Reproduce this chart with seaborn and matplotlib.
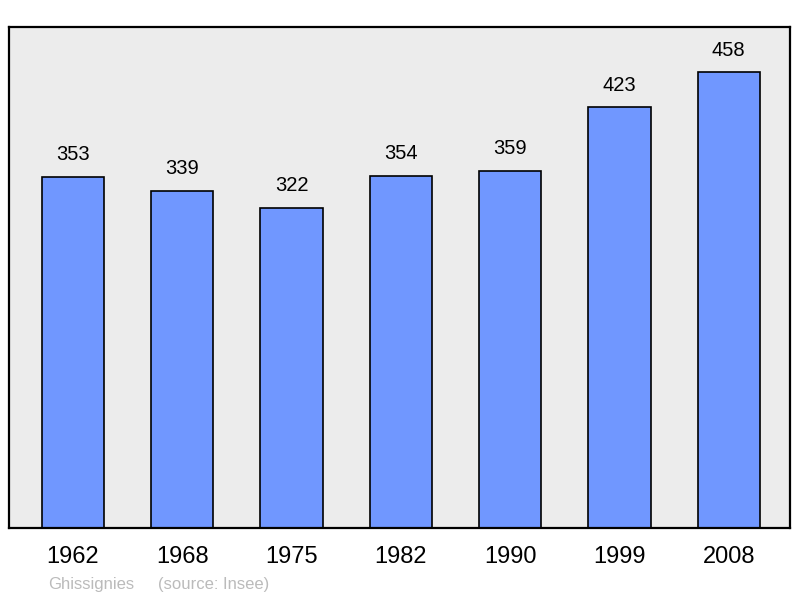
import matplotlib
matplotlib.use("Agg")
import matplotlib.pyplot as plt
import pandas as pd
import seaborn as sns

years = ["1962", "1968", "1975", "1982", "1990", "1999", "2008"]
population = [353, 339, 322, 354, 359, 423, 458]
commune = "Ghissignies"
source = "(source: Insee)"

BAR_COLOR = "#7097ff"
BG_COLOR = "#ececec"

sns.set_theme(style="white")
plt.rcParams["font.family"] = ["Liberation Sans", "DejaVu Sans"]

df = pd.DataFrame({"year": years, "population": population})

fig = plt.figure(figsize=(8, 5.98), dpi=100)
ax = fig.add_axes([0.01125, 0.117, 0.97625, 0.838])
ax.set_facecolor(BG_COLOR)

sns.barplot(data=df, x="year", y="population", color=BAR_COLOR,
            saturation=1, width=0.57, edgecolor="black", linewidth=1.2, ax=ax)

for i, v in enumerate(population):
    ax.annotate(str(v), (i, v), xytext=(0, 9), textcoords="offset points",
                ha="center", va="bottom", fontsize=14.5, color="black")

ax.set_xlim(-0.585, 6.56)
ax.set_ylim(0, 458 * 1.1)
ax.set_yticks([])
ax.set_xlabel("")
ax.set_ylabel("")
ax.tick_params(axis="x", length=0, pad=13, labelsize=17, colors="black")
for spine in ax.spines.values():
    spine.set_visible(True)
    spine.set_color("black")
    spine.set_linewidth(1.6)

fig.text(48 / 800, 1 - 584 / 598, commune, fontsize=12, color="#bbbbbb",
         ha="left", va="center")
fig.text(158 / 800, 1 - 584 / 598, source, fontsize=12, color="#bbbbbb",
         ha="left", va="center")

fig.savefig("out.png", dpi=100)
